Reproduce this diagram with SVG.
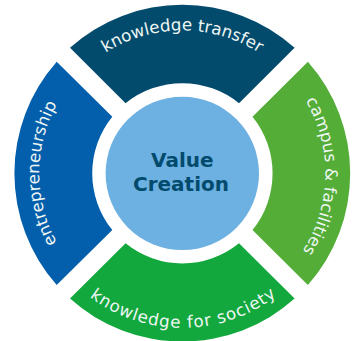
<svg xmlns="http://www.w3.org/2000/svg" width="354" height="341" viewBox="0 0 354 341">
<style>
.label{font-family:"DejaVu Sans",sans-serif;font-size:16.7px;fill:#eef6f4;text-anchor:middle}
.center{font-family:"DejaVu Sans",sans-serif;font-size:20px;font-weight:bold;fill:#024b6d;text-anchor:middle}
</style>
<defs>
<path id="pt" d="M58.5 101.9A143 143 0 0 1 306.1 101.9"/>
<path id="pb" d="M48.5 250.65A154.5 154.5 0 0 0 316.1 250.65"/>
<path id="pl" d="M110.8 297.3A143 143 0 0 1 110.8 49.5"/>
<path id="pr" d="M253.8 49.5A143 143 0 0 1 253.8 297.3"/>
</defs>
<rect width="354" height="341" fill="#ffffff"/>
<g id="node-top"><path d="M70 47.7A168.5 168.5 0 0 1 294.6 47.7L239 103.3A90 90 0 0 0 125.6 103.3Z" fill="#024b6d"/>
<text class="label"><textPath href="#pt" startOffset="50%">knowledge transfer</textPath></text></g>
<g id="node-left"><path d="M56.7 61.7A168.5 168.5 0 0 0 56.7 285L112.3 230A90 90 0 0 1 112.3 116.7Z" fill="#035fab"/>
<text class="label"><textPath href="#pl" startOffset="50%">entrepreneurship</textPath></text></g>
<g id="node-right"><path d="M307.9 61.7A168.5 168.5 0 0 1 307.9 285L252.5 230A90 90 0 0 0 252.5 116.7Z" fill="#53ad37"/>
<text class="label"><textPath href="#pr" startOffset="51%">campus &amp; facilities</textPath></text></g>
<g id="node-bottom"><path d="M70 298.6A168.5 168.5 0 0 0 294.6 298.6L239 243.3A90 90 0 0 1 125.6 243.3Z" fill="#13a83e"/>
<text class="label" letter-spacing=".85"><textPath href="#pb" startOffset="50.4%">knowledge for society</textPath></text></g>
<g id="node-center"><circle cx="182.3" cy="173.4" r="76.7" fill="#6db1e2"/>
<text class="center" x="182.3" y="167.3">Value</text>
<text class="center" x="181" y="191">Creation</text></g>
<g id="connectors"/>
</svg>
